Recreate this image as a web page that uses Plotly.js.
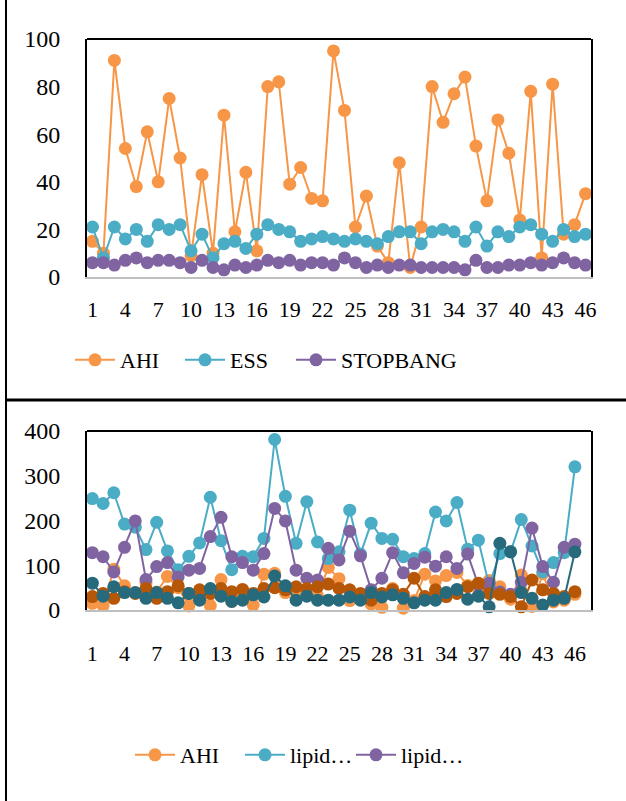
<!DOCTYPE html>
<html><head><meta charset="utf-8">
<script src="https://cdn.plot.ly/plotly-3.0.1.min.js"></script>
<style>html,body{margin:0;padding:0;background:#fff;} #chart{width:626px;height:801px;}</style>
</head><body><div id="chart"></div>
<script>
// ---- data: top panel ----
const categoriesTop = ["1","2","3","4","5","6","7","8","9","10","11","12","13","14","15","16","17","18","19","20","21","22","23","24","25","26","27","28","29","30","31","32","33","34","35","36","37","38","39","40","41","42","43","44","45","46"];
const tickLabelsTop = ["1","4","7","10","13","16","19","22","25","28","31","34","37","40","43","46"];
const ahi = [15,10,91,54,38,61,40,75,50,9,43,10,68,19,44,11,80,82,39,46,33,32,95,70,21,34,13,6,48,4,21,80,65,77,84,55,32,66,52,24,78,8,81,18,22,35];
const ess = [21,8,21,16,20,15,22,20,22,11,18,8,14,15,12,18,22,20,19,15,16,17,16,15,16,15,14,17,19,19,14,19,20,19,15,21,13,19,17,21,22,18,15,20,17,18];
const stopbang = [6,6,5,7,8,6,7,7,6,4,7,4,3,5,4,5,7,6,7,5,6,6,5,8,6,4,5,4,5,5,4,4,4,4,3,7,4,4,5,5,6,5,6,8,6,5];

// ---- data: bottom panel ----
const categoriesBottom = ["1","2","3","4","5","6","7","8","9","10","11","12","13","14","15","16","17","18","19","20","21","22","23","24","25","26","27","28","29","30","31","32","33","34","35","36","37","38","39","40","41","42","43","44","45","46","47"];
const tickLabelsBottom = ["1","4","7","10","13","16","19","22","25","28","31","34","37","40","43","46"];
const ahiBottom = [15,10,91,54,38,61,40,75,50,9,43,10,68,19,44,11,80,82,39,46,33,32,95,70,21,34,13,6,48,4,21,80,65,77,84,55,32,66,52,24,78,8,81,18,22,35,null];
const lipidA = [249,238,262,192,185,135,196,132,90,120,150,252,155,90,120,119,160,381,254,149,242,152,115,130,223,125,194,160,158,119,115,126,219,199,240,136,156,55,126,130,202,143,85,106,128,320,null];
const lipidB = [128,119,85,140,199,68,97,106,74,89,93,164,207,119,106,89,126,227,199,89,71,67,138,112,176,121,45,71,128,83,104,118,98,119,93,125,55,60,40,35,62,183,97,62,140,147,null];
const seriesD = [30,37,26,41,37,48,26,41,54,37,45,37,48,41,46,37,48,50,45,52,48,52,58,48,45,37,22,37,45,35,71,30,45,30,37,52,60,37,35,30,7,67,45,37,30,41,null];
const seriesE = [60,31,52,39,39,26,39,26,16,37,22,48,31,19,22,34,29,76,54,22,31,22,22,22,29,22,39,29,34,26,16,22,22,39,46,24,31,7,149,130,39,26,11,22,26,130,null];

const legendNames = ["AHI","ESS","STOPBANG","lipid…","lipid…"];

const ORANGE = '#F79646', TEAL = '#4BACC6', PURPLE = '#8064A2', DORANGE = '#B65708', DTEAL = '#276A7C';
const FONT = '"Liberation Serif", "Times New Roman", serif';

function tr(x, y, name, color, xa, ya, leg, show) {
  return {x: x, y: y, type: 'scatter', mode: 'lines+markers', name: name,
    line: {color: color, width: 2}, marker: {size: 13, color: color},
    xaxis: xa, yaxis: ya, legend: leg, showlegend: show, cliponaxis: false};
}

const data = [
  tr(categoriesTop, ahi, legendNames[0], ORANGE, 'x', 'y', 'legend', true),
  tr(categoriesTop, ess, legendNames[1], TEAL, 'x', 'y', 'legend3', true),
  tr(categoriesTop, stopbang, legendNames[2], PURPLE, 'x', 'y', 'legend4', true),
  tr(categoriesBottom, ahiBottom, legendNames[0], ORANGE, 'x2', 'y2', 'legend2', true),
  tr(categoriesBottom, lipidA, legendNames[3], TEAL, 'x2', 'y2', 'legend5', true),
  tr(categoriesBottom, lipidB, legendNames[4], PURPLE, 'x2', 'y2', 'legend6', true),
  tr(categoriesBottom, seriesD, 'series4', DORANGE, 'x2', 'y2', 'legend2', false),
  tr(categoriesBottom, seriesE, 'series5', DTEAL, 'x2', 'y2', 'legend2', false)
];

const W = 626, H = 801;
const px = v => v / W, py = v => 1 - v / H;
const xDom = [px(87), px(591)];
const topDom = [py(277), py(39)];
const botDom = [py(610), py(431)];

const baseX = {
  type: 'category', showgrid: false, zeroline: false, showline: true,
  linecolor: '#BFBFBF', linewidth: 2, ticks: '', tickmode: 'array',
  tickfont: {family: FONT, size: 22, color: '#000'}, fixedrange: true
};
const baseY = {
  showgrid: false, zeroline: false, showline: true, linecolor: '#000', linewidth: 2,
  mirror: true, ticks: '', tickfont: {family: FONT, size: 24, color: '#000'},
  ticklabelstandoff: 20, fixedrange: true
};
function leg(xp, yp) {
  return {orientation: 'h', x: px(xp), y: py(yp), xanchor: 'left', yanchor: 'middle',
    font: {family: FONT, size: 22, color: '#000'}, bgcolor: 'rgba(0,0,0,0)', itemclick: false,
    itemwidth: 40};
}

const layout = {
  width: W, height: H, margin: {l: 0, r: 0, t: 0, b: 0},
  paper_bgcolor: '#fff', plot_bgcolor: '#fff',
  font: {family: FONT, color: '#000'},
  xaxis: Object.assign({}, baseX, {domain: xDom, anchor: 'y', range: [-0.5, 45.5],
    categoryorder: 'array', categoryarray: categoriesTop, tickvals: tickLabelsTop, ticktext: tickLabelsTop,
    ticklabelstandoff: 12}),
  yaxis: Object.assign({}, baseY, {domain: topDom, anchor: 'x', range: [0, 100], dtick: 20}),
  xaxis2: Object.assign({}, baseX, {domain: xDom, anchor: 'y2', range: [-0.5, 46.5],
    categoryorder: 'array', categoryarray: categoriesBottom, tickvals: tickLabelsBottom, ticktext: tickLabelsBottom,
    ticklabelstandoff: 23}),
  yaxis2: Object.assign({}, baseY, {domain: botDom, anchor: 'x2', range: [0, 400], dtick: 100}),
  legend: leg(70, 360),
  legend3: leg(180, 360),
  legend4: leg(291, 360),
  legend2: leg(130, 755),
  legend5: leg(240, 755),
  legend6: leg(351, 755),
  shapes: [
    {type: 'line', xref: 'paper', yref: 'paper', x0: xDom[0], x1: xDom[1], y0: topDom[1], y1: topDom[1], line: {color: '#000', width: 2}},
    {type: 'line', xref: 'paper', yref: 'paper', x0: xDom[0], x1: xDom[1], y0: botDom[1], y1: botDom[1], line: {color: '#000', width: 2}},
    {type: 'line', xref: 'paper', yref: 'paper', x0: px(6), x1: px(6), y0: 0, y1: 1, line: {color: '#000', width: 2}},
    {type: 'line', xref: 'paper', yref: 'paper', x0: px(6), x1: 1, y0: py(400), y1: py(400), line: {color: '#000', width: 3}}
  ]
};

Plotly.newPlot('chart', data, layout, {displayModeBar: false, staticPlot: true});
</script>
</body></html>
